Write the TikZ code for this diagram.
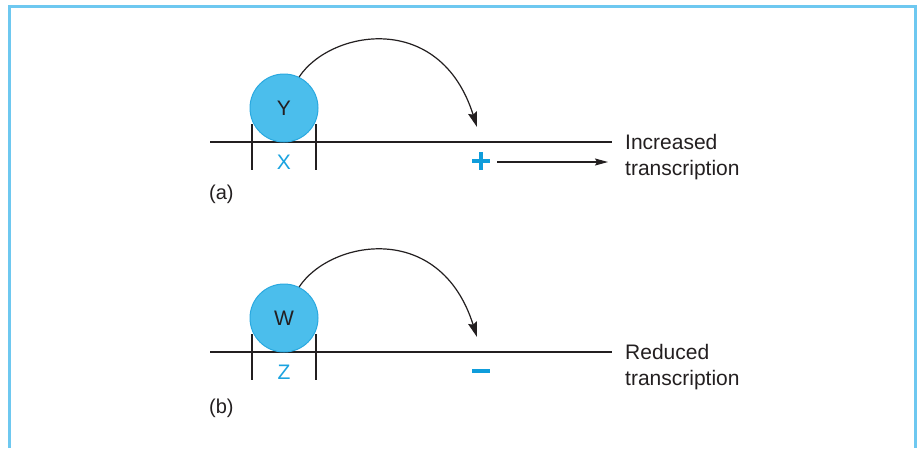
\documentclass[tikz,border=0pt]{standalone}
\usepackage{fontspec}
\setmainfont{Liberation Sans}
\usetikzlibrary{arrows.meta}
\definecolor{frameblue}{HTML}{6EC8F0}
\definecolor{ballfill}{HTML}{4BBEEC}
\definecolor{balldraw}{HTML}{2AA9E0}
\definecolor{labblue}{HTML}{1AA3E0}
\definecolor{signblue}{HTML}{0F9DDB}
\definecolor{ink}{HTML}{231F20}
\tikzset{
  ball/.style={circle, minimum size=68pt, inner sep=0pt, fill=ballfill, draw=balldraw, line width=1pt, font=\fontsize{21}{22}\selectfont, text=ink},
  dna/.style={draw=ink, line width=1.3pt},
  tickline/.style={draw=ink, line width=1.1pt},
  site/.style={font=\fontsize{21}{22}\selectfont, text=labblue, inner sep=0pt},
  outtext/.style={font=\fontsize{21}{26}\selectfont, text=ink, anchor=west, align=left, inner sep=0pt},
  panel/.style={font=\fontsize{20}{22}\selectfont, text=ink, anchor=west, inner sep=0pt},
  arcarrow/.style={draw=ink, line width=1.2pt, -{Stealth[length=15pt,width=9pt,inset=2pt]}},
  sign/.style={draw=signblue, line width=4.5pt},
  outarrow/.style={draw=ink, line width=1.2pt, -{Stealth[length=13pt,width=7pt,inset=2pt]}}
}
\begin{document}
\begin{tikzpicture}[x=1pt,y=-1pt]
\useasboundingbox (0,0) rectangle (919,448);
\fill[white] (0,0) rectangle (919,448);
\draw[frameblue, line width=3pt] (9.5,448) -- (9.5,6.5) -- (915.5,6.5) -- (915.5,448);

% ---------- panel (a)
\coordinate (aL) at (210,142);
\coordinate (aR) at (612,142);
\draw[dna] (aL) -- (aR);
\draw[tickline] (252,124) -- (252,170);
\draw[tickline] (316,124) -- (316,170);
\node[ball] (Y) at (284,108) {Y};
\node[site] (X) at (284,162) {X};
\coordinate (aT) at (477,127);
\draw[arcarrow] (Y.64) .. controls (330,30) and (440,10) .. (aT);
\draw[sign] (472,161) -- (490,161);
\draw[sign] (481,152) -- (481,170);
\coordinate (aA1) at (497,162);
\coordinate (aA2) at (608,162);
\draw[outarrow] (aA1) -- (aA2);
\node[outtext] (inc) at (625,157) {Increased\\transcription};
\node[panel] (pa) at (209,194) {(a)};

% ---------- panel (b)
\coordinate (bL) at (210,352);
\coordinate (bR) at (612,352);
\draw[dna] (bL) -- (bR);
\draw[tickline] (252,334) -- (252,380);
\draw[tickline] (316,334) -- (316,380);
\node[ball] (W) at (284,318) {W};
\node[site] (Z) at (284,372) {Z};
\coordinate (bT) at (477,337);
\draw[arcarrow] (W.64) .. controls (330,240) and (440,220) .. (bT);
\draw[sign, line width=4pt] (472,371) -- (490,371);
\node[outtext] (red) at (625,367) {Reduced\\transcription};
\node[panel] (pb) at (209,408) {(b)};
\end{tikzpicture}
\end{document}
